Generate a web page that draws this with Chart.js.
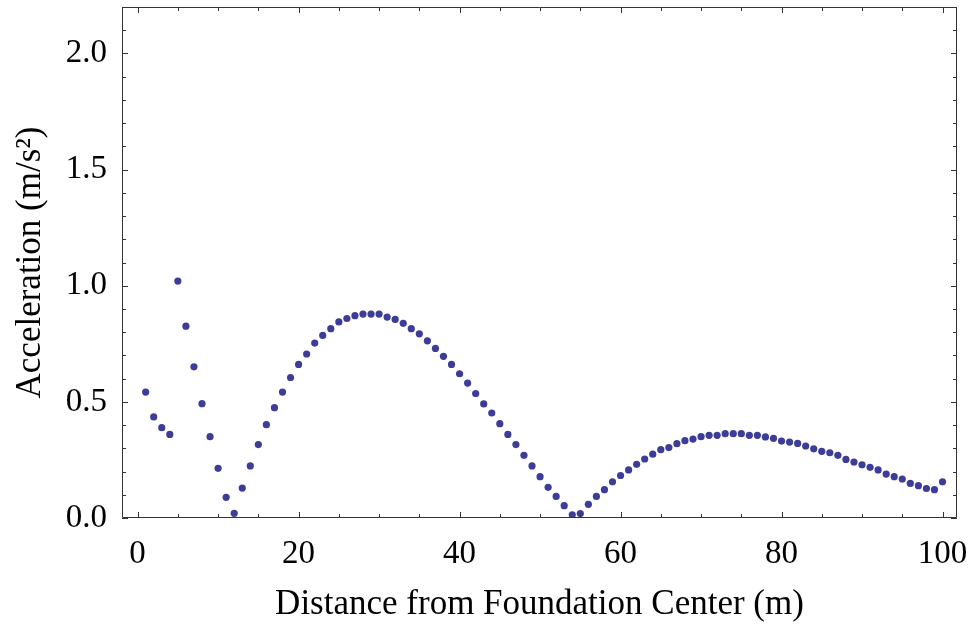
<!DOCTYPE html>
<html lang="en">
<head>
    <meta charset="UTF-8">
    <title>Acceleration vs Distance from Foundation Center</title>
    <script src="https://cdn.jsdelivr.net/npm/chart.js"></script>
    <style>
        body {
            margin: 0;
            background-color: #fff;
        }
        #wrap {
            width: 975px;
            height: 626px;
        }
    </style>
</head>
<body>
    <div id="wrap"><canvas id="accelChart"></canvas></div>

    <script>
        // Distance from the foundation center (m)
        const distance = [
            1, 2, 3, 4, 5, 6, 7, 8, 9, 10,
            11, 12, 13, 14, 15, 16, 17, 18, 19, 20,
            21, 22, 23, 24, 25, 26, 27, 28, 29, 30,
            31, 32, 33, 34, 35, 36, 37, 38, 39, 40,
            41, 42, 43, 44, 45, 46, 47, 48, 49, 50,
            51, 52, 53, 54, 55, 56, 57, 58, 59, 60,
            61, 62, 63, 64, 65, 66, 67, 68, 69, 70,
            71, 72, 73, 74, 75, 76, 77, 78, 79, 80,
            81, 82, 83, 84, 85, 86, 87, 88, 89, 90,
            91, 92, 93, 94, 95, 96, 97, 98, 99, 100
        ];

        // Peak ground acceleration (m/s^2)
        const acceleration = [
            0.542, 0.435, 0.389, 0.360, 1.020, 0.826, 0.651, 0.492, 0.350, 0.214,
            0.089, 0.020, 0.129, 0.224, 0.316, 0.402, 0.475, 0.542, 0.605, 0.661,
            0.706, 0.753, 0.786, 0.815, 0.844, 0.859, 0.871, 0.878, 0.878, 0.878,
            0.865, 0.855, 0.838, 0.815, 0.793, 0.763, 0.730, 0.696, 0.661, 0.621,
            0.581, 0.536, 0.491, 0.452, 0.406, 0.360, 0.316, 0.270, 0.224, 0.178,
            0.132, 0.093, 0.053, 0.014, 0.019, 0.059, 0.093, 0.122, 0.156, 0.183,
            0.207, 0.231, 0.254, 0.275, 0.294, 0.303, 0.320, 0.333, 0.340, 0.350,
            0.356, 0.356, 0.363, 0.363, 0.363, 0.356, 0.356, 0.349, 0.343, 0.331,
            0.327, 0.321, 0.310, 0.298, 0.287, 0.281, 0.270, 0.252, 0.241, 0.229,
            0.218, 0.207, 0.189, 0.178, 0.168, 0.149, 0.139, 0.127, 0.122, 0.156
        ];

        const xMajorStep = 20;
        const xMinorStep = 5;
        const yMajorStep = 0.5;
        const yMinorStep = 0.1;

        const points = distance.map((d, i) => ({ x: d, y: acceleration[i] }));

        const serif = '"Liberation Serif", "Times New Roman", serif';

        // Frame around the plot with inward ticks on all four sides
        const frameTicks = {
            id: 'frameTicks',
            afterDraw(chart) {
                const { ctx, chartArea: a, scales } = chart;
                const xs = scales.x, ys = scales.y;
                ctx.save();
                ctx.strokeStyle = '#333';
                ctx.lineWidth = 1;
                ctx.beginPath();
                ctx.rect(a.left + 0.5, a.top + 0.5, a.right - a.left - 1, a.bottom - a.top - 1);
                ctx.stroke();

                ctx.beginPath();
                for (let v = 0; v <= 100 + 1e-9; v += xMinorStep) {
                    const px = Math.round(xs.getPixelForValue(v)) + 0.5;
                    const len = Math.abs(v % xMajorStep) < 1e-9 ? 6 : 4;
                    ctx.moveTo(px, a.bottom);
                    ctx.lineTo(px, a.bottom - len);
                    ctx.moveTo(px, a.top);
                    ctx.lineTo(px, a.top + len);
                }
                for (let k = 0; k <= 22; k++) {
                    const v = k * yMinorStep;
                    const py = Math.round(ys.getPixelForValue(v)) + 0.5;
                    const len = k % 5 === 0 ? 6 : 4;
                    ctx.moveTo(a.left, py);
                    ctx.lineTo(a.left + len, py);
                    ctx.moveTo(a.right, py);
                    ctx.lineTo(a.right - len, py);
                }
                ctx.stroke();
                ctx.restore();
            }
        };

        new Chart(document.getElementById('accelChart'), {
            type: 'scatter',
            data: {
                datasets: [{
                    label: 'Acceleration',
                    data: points,
                    backgroundColor: 'rgb(61, 61, 153)',
                    borderWidth: 0,
                    pointRadius: 3.6,
                    pointHoverRadius: 3.6
                }]
            },
            options: {
                responsive: true,
                maintainAspectRatio: false,
                animation: false,
                layout: {
                    padding: { top: 7, right: 18, left: 0, bottom: 0 }
                },
                scales: {
                    x: {
                        type: 'linear',
                        min: -1.94,
                        max: 101.8,
                        grid: { display: false },
                        border: { display: false },
                        ticks: {
                            stepSize: xMajorStep,
                            includeBounds: false,
                            maxRotation: 0,
                            padding: 9,
                            color: '#000',
                            font: { family: serif, size: 33 }
                        },
                        title: {
                            display: true,
                            text: 'Distance from Foundation Center (m)',
                            color: '#000',
                            font: { family: serif, size: 35 },
                            padding: { top: 0, bottom: 0 }
                        },
                        afterFit(scale) {
                            scale.height = 108;
                            scale.paddingLeft = 0;
                            scale.paddingRight = 0;
                        }
                    },
                    y: {
                        type: 'linear',
                        min: 0,
                        max: 2.2,
                        grid: { display: false },
                        border: { display: false },
                        ticks: {
                            stepSize: yMajorStep,
                            includeBounds: false,
                            padding: 7,
                            color: '#000',
                            font: { family: serif, size: 33 },
                            callback: v => v.toFixed(1)
                        },
                        title: {
                            display: true,
                            text: 'Acceleration (m/s²)',
                            color: '#000',
                            font: { family: serif, size: 35 },
                            padding: { top: 10, bottom: 0 }
                        },
                        afterFit(scale) {
                            scale.width = 122;
                            scale.paddingTop = 0;
                            scale.paddingBottom = 0;
                        }
                    }
                },
                plugins: {
                    legend: { display: false },
                    tooltip: { enabled: false }
                }
            },
            plugins: [frameTicks]
        });
    </script>
</body>
</html>
